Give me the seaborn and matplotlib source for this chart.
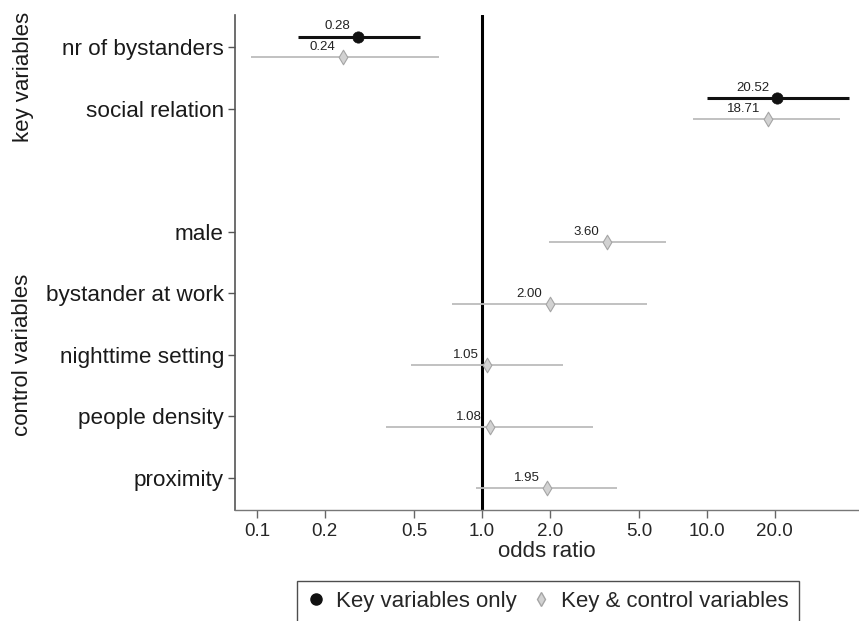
import matplotlib
matplotlib.use("Agg")
import matplotlib.pyplot as plt
from matplotlib.lines import Line2D
from matplotlib.ticker import FixedLocator, NullLocator
import pandas as pd
import seaborn as sns

# data
key_vars = ["nr of bystanders", "social relation"]
control_vars = ["male", "bystander at work", "nighttime setting",
                "people density", "proximity"]

key_or = [0.28, 20.52]
key_lo = [0.152, 10.0]
key_hi = [0.532, 43.0]

full_or = [0.24, 18.71, 3.60, 2.00, 1.05, 1.08, 1.95]
full_lo = [0.094, 8.67, 1.98, 0.736, 0.485, 0.376, 0.94]
full_hi = [0.646, 39.2, 6.59, 5.43, 2.28, 3.10, 4.0]

xticks = [0.1, 0.2, 0.5, 1.0, 2.0, 5.0, 10.0, 20.0]
xtick_labels = ["0.1", "0.2", "0.5", "1.0", "2.0", "5.0", "10.0", "20.0"]

model_names = ["Key variables only", "Key & control variables"]

sns.set_style("ticks")
plt.rcParams["font.family"] = ["Liberation Sans", "DejaVu Sans"]

# one empty row between the two groups
variables = key_vars + control_vars
ypos = list(range(len(key_vars))) + [len(key_vars) + 1 + i for i in range(len(control_vars))]

df_key = pd.DataFrame({"var": key_vars, "y": ypos[:2], "or": key_or,
                       "lo": key_lo, "hi": key_hi, "model": model_names[0]})
df_full = pd.DataFrame({"var": variables, "y": ypos, "or": full_or,
                        "lo": full_lo, "hi": full_hi, "model": model_names[1]})
df_key["yp"] = df_key["y"] - 0.17
df_full["yp"] = df_full["y"] + 0.17

fig = plt.figure(figsize=(8.59, 6.21), dpi=100)
ax = fig.add_axes([235 / 859, 1 - 510 / 621, 624 / 859, 495 / 621])

ax.axvline(1.0, color="black", lw=2.2, zorder=1)

black = "#111111"
grey_line = "#bcbcbc"
ax.hlines(df_full["yp"], df_full["lo"], df_full["hi"], color=grey_line, lw=1.3, zorder=2)
ax.hlines(df_key["yp"], df_key["lo"], df_key["hi"], color=black, lw=2.2, zorder=2)

sns.scatterplot(data=df_full, x="or", y="yp", marker="d", s=55,
                color="#d2d2d2", edgecolor="#a5a5a5", linewidth=0.8,
                ax=ax, legend=False, zorder=3)
sns.scatterplot(data=df_key, x="or", y="yp", marker="o", s=66,
                color=black, edgecolor=black, linewidth=0.5,
                ax=ax, legend=False, zorder=4)

for d in (df_key, df_full):
    for _, r in d.iterrows():
        ax.annotate(f"{r['or']:.2f}", (r["or"], r["yp"]), xytext=(-5.5, 3),
                    textcoords="offset points", ha="right", va="bottom",
                    fontsize=9.5, color="#222222", zorder=5)

ax.set_xscale("log")
ax.set_xlim(0.0798, 47.4)
ax.xaxis.set_major_locator(FixedLocator(xticks))
ax.xaxis.set_minor_locator(NullLocator())
ax.set_xticklabels(xtick_labels, fontsize=13.5)
ax.set_ylim(len(variables) + 0.52, -0.52)
ax.set_yticks(ypos)
ax.set_yticklabels(variables, fontsize=16.2, color="#1a1a1a")
ax.set_xlabel("odds ratio", fontsize=16, labelpad=1)
ax.set_ylabel("")

ax.tick_params(axis="y", length=5, width=1, color="#555555", pad=3)
ax.tick_params(axis="x", length=6, width=1, color="#666666", pad=3)
sns.despine(ax=ax, top=True, right=True)
ax.spines["left"].set_color("#555555")
ax.spines["bottom"].set_color("#777777")
ax.spines["left"].set_linewidth(1.2)
ax.spines["bottom"].set_linewidth(1.0)

fig.text(23 / 859, 1 - 77 / 621, "key variables", rotation=90,
         ha="center", va="center", fontsize=16, color="#1a1a1a")
fig.text(23 / 859, 1 - 355 / 621, "control variables", rotation=90,
         ha="center", va="center", fontsize=16, color="#1a1a1a")

handles = [
    Line2D([], [], marker="o", ls="none", color=black, markersize=8),
    Line2D([], [], marker="d", ls="none", color="#d2d2d2",
           markeredgecolor="#a5a5a5", markersize=7),
]
leg = fig.legend(handles, model_names, loc="upper center",
                 bbox_to_anchor=(548 / 859, 1 - 581 / 621), borderaxespad=0,
                 ncol=2, fontsize=16, frameon=True, fancybox=False,
                 handlelength=0.8, handletextpad=0.5, columnspacing=0.7,
                 borderpad=0.45)
leg.get_frame().set_edgecolor("#222222")
leg.get_frame().set_linewidth(1.0)

fig.savefig("out.png", dpi=100)
